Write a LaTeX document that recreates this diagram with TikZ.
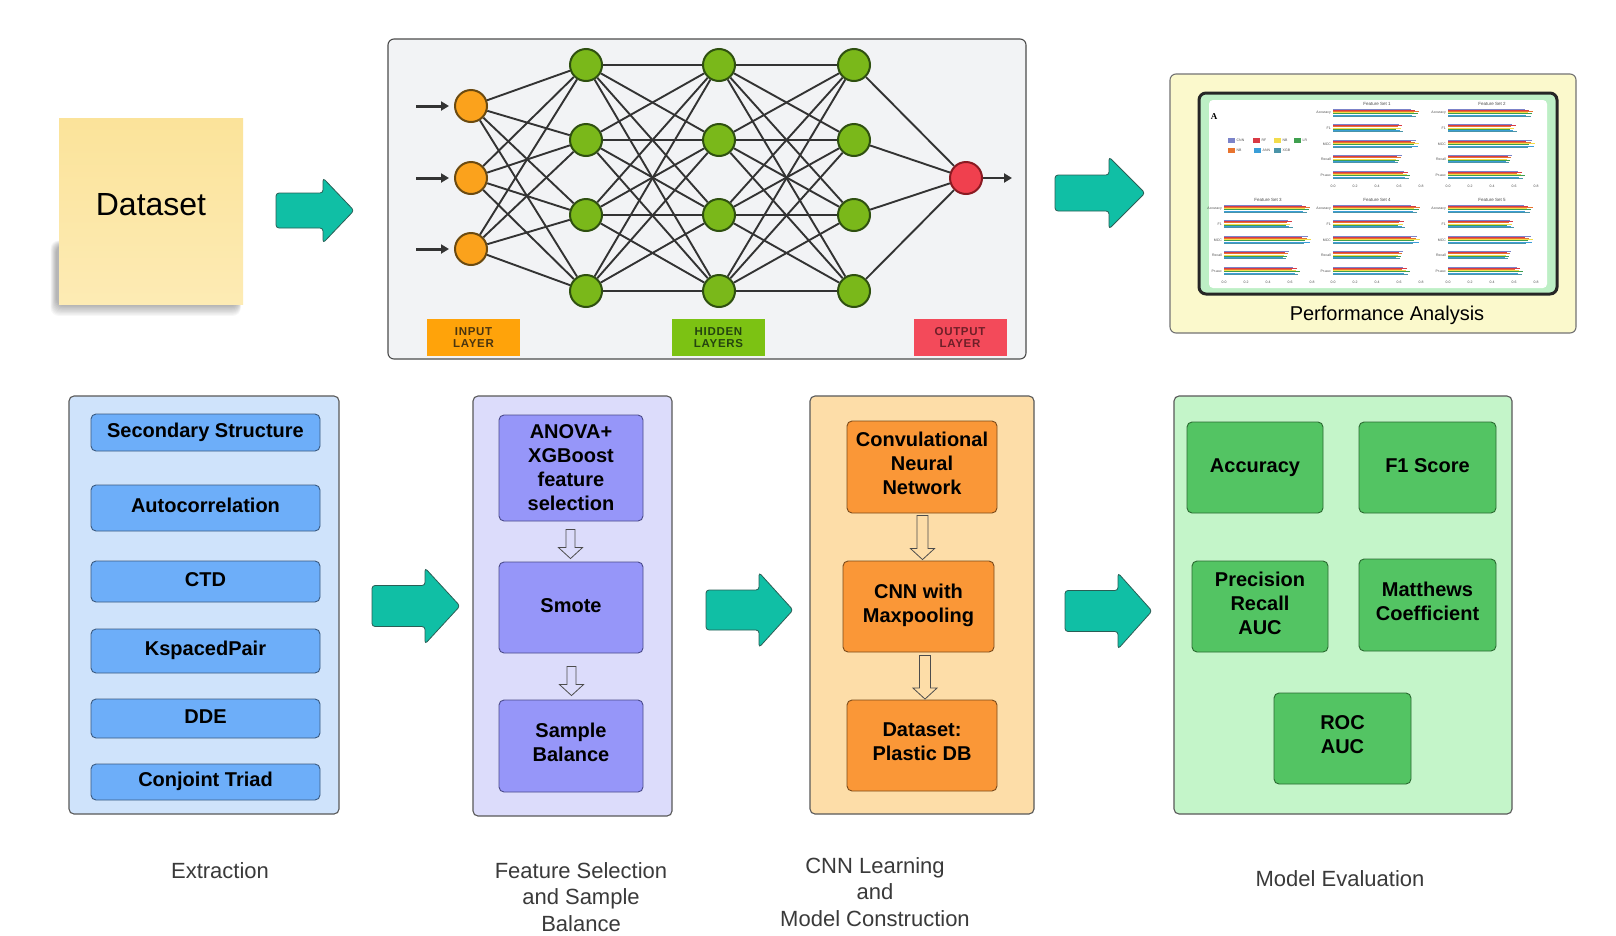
\documentclass[tikz,border=0pt]{standalone}
\usepackage{fontspec}
\setmainfont{Liberation Sans}
\newfontfamily\lblfont[LetterSpace=6]{Liberation Sans}
\newfontfamily\chartserif{Liberation Serif}
\usetikzlibrary{arrows.meta,calc}

\definecolor{notetop}{HTML}{FBE39A}
\definecolor{notebot}{HTML}{FDEBB4}
\definecolor{tealfill}{HTML}{10BFA5}
\definecolor{tealedge}{HTML}{2A5E55}
\definecolor{nnbg}{HTML}{F2F3F5}
\definecolor{inorange}{HTML}{FBA21C}
\definecolor{inlab}{HTML}{FFA30A}
\definecolor{intext}{HTML}{4A3510}
\definecolor{inedge}{HTML}{6B4A10}
\definecolor{hidgreen}{HTML}{7AB81A}
\definecolor{hidlab}{HTML}{7CC213}
\definecolor{hidtext}{HTML}{24440F}
\definecolor{hidedge}{HTML}{2F5010}
\definecolor{outred}{HTML}{F0404E}
\definecolor{outlab}{HTML}{F34A5A}
\definecolor{outtext}{HTML}{6E1F28}
\definecolor{outedge}{HTML}{8A1A22}
\definecolor{nnline}{HTML}{333333}
\definecolor{perfbg}{HTML}{FBF9CC}
\definecolor{chartgreen}{HTML}{BDEFC5}
\definecolor{extbgc}{HTML}{CFE3FB}
\definecolor{extitc}{HTML}{6DAEF9}
\definecolor{extedge}{HTML}{3A5A80}
\definecolor{fsbgc}{HTML}{DCDCFB}
\definecolor{fsitc}{HTML}{9696F9}
\definecolor{fsedge}{HTML}{4A4A8A}
\definecolor{cnnbgc}{HTML}{FDDDA8}
\definecolor{cnnitc}{HTML}{FA9737}
\definecolor{cnnedge}{HTML}{7A4A1A}
\definecolor{evbgc}{HTML}{C4F5C9}
\definecolor{evitc}{HTML}{53C463}
\definecolor{evedge}{HTML}{2A6A30}
\definecolor{labgray}{HTML}{3A3A3A}
\definecolor{cA}{HTML}{7B83C9}
\definecolor{cB}{HTML}{D93A45}
\definecolor{cC}{HTML}{E8742F}
\definecolor{cD}{HTML}{F2DC4C}
\definecolor{cE}{HTML}{3FA04F}
\definecolor{cF}{HTML}{3A9ED8}
\definecolor{cG}{HTML}{4A94A8}

\newcommand{\hdarrow}[6]{%
  \draw[hollowarr] let \p1=(#1.south), \p2=(#2.north) in
    ({#3pt-#6pt},{\y1-#4pt}) -- ({#3pt+#6pt},{\y1-#4pt})
    -- ({#3pt+#6pt},{\y2+#5pt+11pt}) -- ({#3pt+12pt},{\y2+#5pt+11pt})
    -- ({#3pt},{\y2+#5pt}) -- ({#3pt-12pt},{\y2+#5pt+11pt})
    -- ({#3pt-#6pt},{\y2+#5pt+11pt}) -- cycle;}

\newcommand{\tealarrow}[6]{%
  \draw[tealarr] (#1,#4-#5) -- (#3,#4-#5) -- (#3,#4-#6) -- (#2,#4)
    -- (#3,#4+#6) -- (#3,#4+#5) -- (#1,#4+#5) -- cycle;}

\begin{document}
\begin{tikzpicture}[x=1pt,y=-1pt,
  panel/.style={draw=black!65, line width=1.1pt, rounded corners=5pt, inner sep=0pt},
  itembase/.style={rounded corners=5pt, line width=0.9pt, align=center, inner sep=2pt,
    font=\bfseries\fontsize{20}{24}\selectfont, text=black},
  itembox/.style={itembase, execute at begin node=\strut, execute at end node=\strut},
  extbox/.style={itembox, draw=extedge, fill=extitc, minimum width=229pt},
  fsbox/.style={itembox, draw=fsedge, fill=fsitc, minimum width=144pt},
  cnnbox/.style={itembox, draw=cnnedge, fill=cnnitc},
  evbox/.style={itembox, draw=evedge, fill=evitc},
  botlabel/.style={align=center, text=labgray, font=\fontsize{22}{26.5}\selectfont, inner sep=0pt},
  tealarr/.style={draw=tealedge, line width=0.8pt, fill=tealfill, rounded corners=3pt},
  hollowarr/.style={draw=black!70, line width=0.8pt, line join=miter},
  neuron/.style={circle, minimum size=32pt, inner sep=0pt, line width=2pt},
  inneuron/.style={neuron, fill=inorange, draw=inedge},
  hidneuron/.style={neuron, fill=hidgreen, draw=hidedge},
  outneuron/.style={neuron, fill=outred, draw=outedge},
  nnlink/.style={draw=nnline, line width=1.9pt},
  nnarrow/.style={draw=nnline, line width=3pt, -{Triangle[length=8pt,width=9pt]}},
  layerlbl/.style={minimum width=93pt, minimum height=37pt, inner sep=0pt, align=center,
    font=\lblfont\bfseries\fontsize{11.5}{12.5}\selectfont},
  charttxt/.style={inner sep=0pt, text=black!70, font=\fontsize{3.5}{4}\selectfont},
]
\useasboundingbox[fill=white] (0,0) rectangle (1616,935);

% ---------- Dataset sticky note ----------
\foreach \i in {0,...,9}
  \fill[black, opacity=0.03, rounded corners=8pt] (56-\i*0.6,245-\i*0.5) rectangle (239+\i*0.2,306+\i*1.1);
\node[minimum width=184pt, minimum height=186pt, inner sep=0pt,
  top color=notetop, bottom color=notebot] (dataset) at (151,211) {};
\node[inner sep=0pt, font=\fontsize{32}{38}\selectfont] (datasettxt) at (151,205) {Dataset};

\tealarrow{276}{354}{323}{210.5}{17.5}{32.5}

% ---------- Neural network panel ----------
\node[panel, fill=nnbg, draw=black!70, minimum width=638pt, minimum height=320pt, rounded corners=6pt] (nnp) at (707,199) {};

\foreach \n/\y in {1/106,2/178,3/249}
  \node[inneuron] (i\n) at (471,\y) {};
\foreach \c/\x in {a/586,b/719,c/854}
  \foreach \n/\y in {1/65,2/140,3/215,4/291}
    \node[hidneuron] (h\c\n) at (\x,\y) {};
\node[outneuron] (o) at (966,178) {};

\foreach \a in {1,2,3}
  \foreach \b in {1,...,4}
    \draw[nnlink] (i\a) -- (ha\b);
\foreach \a in {1,...,4}
  \foreach \b in {1,...,4}
    {\draw[nnlink] (ha\a) -- (hb\b); \draw[nnlink] (hb\a) -- (hc\b);}
\foreach \a in {1,...,4}
  \draw[nnlink] (hc\a) -- (o);

\foreach \n/\y in {1/106,2/178,3/249}
  {\coordinate (ia\n) at (416,\y); \draw[nnarrow] (ia\n) -- ($(i\n.west)+(-5,0)$);}
\coordinate (oa) at (1012,178);
\draw[nnarrow, line width=2.5pt] (o) -- (oa);

\node[layerlbl, fill=inlab, text=intext] (inl) at (473.5,337.5) {INPUT\\LAYER};
\node[layerlbl, fill=hidlab, text=hidtext] (hidl) at (718.5,337.5) {HIDDEN\\LAYERS};
\node[layerlbl, fill=outlab, text=outtext] (outl) at (960,337.5) {OUTPUT\\LAYER};

\tealarrow{1055}{1145}{1109}{193}{18}{36}

% ---------- Performance analysis panel ----------
\node[panel, fill=perfbg, draw=black!55, minimum width=406pt, minimum height=259pt, rounded corners=6pt] (perf) at (1373,203.5) {};
\draw[line width=3pt, draw=black!85, fill=chartgreen, rounded corners=7pt] (1199,93) rectangle (1557,294);
\fill[white, rounded corners=4pt] (1209,100) rectangle (1547,288);
\node[inner sep=0pt, font=\chartserif\bfseries\fontsize{9}{9}\selectfont] at (1214,117) {A};
\foreach \x/\y/\c/\l in {1228/140/cA/CNN, 1253/140/cB/RF, 1274/140/cD/NB, 1294/140/cE/LR,
                        1228/150/cC/NB, 1254/150/cF/ANN, 1274/150/cG/XGB}
  {\fill[\c] (\x,\y-2.5) rectangle ++(7,5);
   \node[charttxt, anchor=west] at (\x+8.5,\y) {\l};}
\foreach \sx/\sy/\sn/\fa/\fb/\fc/\fd/\fe in {
   1333/109/1/0.98/0.80/0.98/0.78/0.88,
   1448/109/2/0.97/0.78/0.99/0.73/0.87,
   1224/205/3/0.98/0.78/0.99/0.74/0.86,
   1333/205/4/0.99/0.82/0.99/0.80/0.87,
   1448/205/5/0.96/0.75/0.97/0.72/0.85}{
  \node[charttxt, font=\fontsize{4.5}{5}\selectfont] at (\sx+44,\sy-5.5) {Feature Set \sn};
  \foreach \f [count=\gi from 0] in {\fa,\fb,\fc,\fd,\fe}{
    \foreach \col [count=\bi from 0] in {cA,cB,cC,cD,cE,cF,cG}{
      \pgfmathsetmacro\barlen{88*\f*(0.9+0.1*mod(\bi*3+\gi*2,7)/6)}
      \draw[\col, line width=0.95pt] (\sx,\sy+\gi*15.5+\bi*1.2) -- ++(\barlen,0);
    }
  }
  \foreach \tk [count=\k from 0] in {0.0,0.2,0.4,0.6,0.8}
    \node[charttxt] at (\sx+\k*22,\sy+77) {\tk};
  \foreach \tk [count=\k from 0] in {Accuracy,F1,MCC,Recall,Pr-auc}
    \node[charttxt, anchor=east] at (\sx-2,\sy+\k*15.5+4) {\tk};
}
\node[inner sep=0pt, font=\fontsize{20}{24}\selectfont] (perflabel) at (1387,315) {Performance Analysis};

% ---------- Extraction ----------
\node[panel, fill=extbgc, minimum width=270pt, minimum height=418pt] (extp) at (204,605) {};
\node[extbox, minimum height=37pt] (sec) at (205.5,432.5) {Secondary Structure};
\node[extbox, minimum height=46pt] (auto) at (205.5,508) {Autocorrelation};
\node[extbox, minimum height=41pt] (ctd) at (205.5,581.5) {CTD};
\node[extbox, minimum height=44pt] (ksp) at (205.5,651) {KspacedPair};
\node[extbox, minimum height=39pt] (dde) at (205.5,718.5) {DDE};
\node[extbox, minimum height=36pt] (conj) at (205.5,782) {Conjoint Triad};

\tealarrow{372}{460}{425}{606}{20.5}{38}

% ---------- Feature selection ----------
\node[panel, fill=fsbgc, minimum width=199pt, minimum height=420pt] (fsp) at (572.5,606) {};
\node[itembase, draw=fsedge, fill=fsitc, minimum width=144pt, minimum height=106pt] (anova) at (571,468) {ANOVA+\\XGBoost\\feature\\selection};
\node[fsbox, minimum height=91pt] (smote) at (571,607.5) {Smote};
\node[fsbox, minimum height=92pt] (sample) at (571,746) {Sample\\Balance};
\hdarrow{anova}{smote}{570.5}{8}{3}{4.5}
\hdarrow{smote}{sample}{571.5}{13}{4}{4.5}

\tealarrow{706}{793}{759}{610}{20}{37.5}

% ---------- CNN ----------
\node[panel, fill=cnnbgc, minimum width=224pt, minimum height=418pt] (cnnp) at (922,605) {};
\node[cnnbox, minimum width=150pt, minimum height=92pt] (conv) at (922,467) {Convulational\\Neural\\Network};
\node[cnnbox, minimum width=151pt, minimum height=91pt] (maxp) at (918.5,606.5) {CNN with\\Maxpooling};
\node[cnnbox, minimum width=150pt, minimum height=91pt] (plastic) at (922,745.5) {Dataset:\\Plastic DB};
\hdarrow{conv}{maxp}{922.5}{2}{1}{5.5}
\hdarrow{maxp}{plastic}{925}{3}{0.5}{5.5}

\tealarrow{1065}{1152}{1118}{611}{20.5}{38}

% ---------- Evaluation ----------
\node[panel, fill=evbgc, minimum width=338pt, minimum height=418pt] (evp) at (1343,605) {};
\node[evbox, minimum width=136pt, minimum height=91pt] (acc) at (1255,467.5) {Accuracy};
\node[evbox, minimum width=137pt, minimum height=91pt] (f1) at (1427.5,467.5) {F1 Score};
\node[evbox, minimum width=136pt, minimum height=91pt] (prec) at (1260,606.5) {Precision\\Recall\\AUC};
\node[evbox, minimum width=137pt, minimum height=92pt] (matt) at (1427.5,605) {Matthews\\Coefficient};
\node[evbox, minimum width=137pt, minimum height=91pt] (roc) at (1342.5,738.5) {ROC\\AUC};

% ---------- Bottom labels ----------
\node[botlabel] (lext) at (220,871) {Extraction};
\node[botlabel] (lfs) at (581,897) {Feature Selection\\and Sample\\Balance};
\node[botlabel] (lcnn) at (875,892) {CNN Learning\\and\\Model Construction};
\node[botlabel] (lev) at (1340,879) {Model Evaluation};
\end{tikzpicture}
\end{document}
